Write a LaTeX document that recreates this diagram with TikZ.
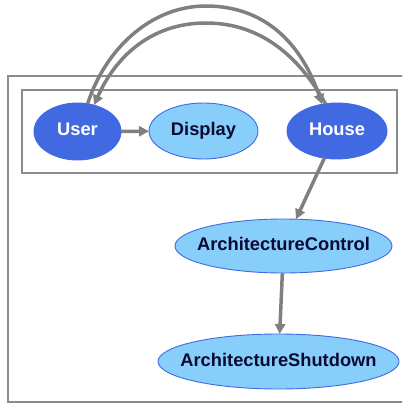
\documentclass[tikz,border=0pt]{standalone}
\usepackage{fontspec}
\setmainfont{Liberation Sans}
\usepackage{xcolor}
\usepackage{tikz}
\usetikzlibrary{shapes.geometric,arrows.meta}

\definecolor{royal}{RGB}{65,105,225}
\definecolor{skyish}{RGB}{135,206,250}
\definecolor{inkblue}{RGB}{10,10,50}
\definecolor{boxgray}{RGB}{140,140,140}
\definecolor{flowgray}{RGB}{128,128,128}

\begin{document}
\begin{tikzpicture}[x=1pt,y=-1pt,
  blob/.style={ellipse,draw=royal,line width=0.9pt,inner sep=0pt,outer sep=0pt},
  blobtext/.style={inner sep=0pt,text height=13pt,text depth=4pt,font=\fontsize{18.3}{20}\selectfont\bfseries},
  darkblob/.style={blob,fill=royal,label={[blobtext,text=white]center:#1}},
  lightblob/.style={blob,fill=skyish,label={[blobtext,text=inkblue]center:#1}},
  flow/.style={-{Triangle[length=10pt,width=10pt]},line width=3.5pt,draw=flowgray}]
\clip(0,0)rectangle(402,403);
% clusters
\draw[boxgray,line width=1.3pt](8,76)rectangle(410,402);
\draw[boxgray,line width=1.3pt](22,90)rectangle(397,173);
% nodes
\node[darkblob=User,minimum width=87pt,minimum height=57pt](user)at(77.5,131.5){};
\node[lightblob=Display,minimum width=109pt,minimum height=56pt](display)at(203.5,131){};
\node[darkblob=House,minimum width=100pt,minimum height=56pt](house)at(337,131){};
\node[lightblob=ArchitectureControl,minimum width=217pt,minimum height=54pt](archcontrol)at(283.5,246){};
\node[lightblob=ArchitectureShutdown,minimum width=241pt,minimum height=55pt](archshutdown)at(278.5,361.5){};
% edges
\draw[flow](user)--(display);
\draw[flow](house)--(archcontrol);
\draw[flow](archcontrol)--(archshutdown);
\draw[flow](user.70)..controls(105,50)and(150,6)..(206,6)
  ..controls(262,6)and(300,40)..(house.119);
\draw[flow](house.113)..controls(300,58)and(262,23)..(206,23)
  ..controls(150,23)and(115,58)..(user.58);
\end{tikzpicture}
\end{document}
